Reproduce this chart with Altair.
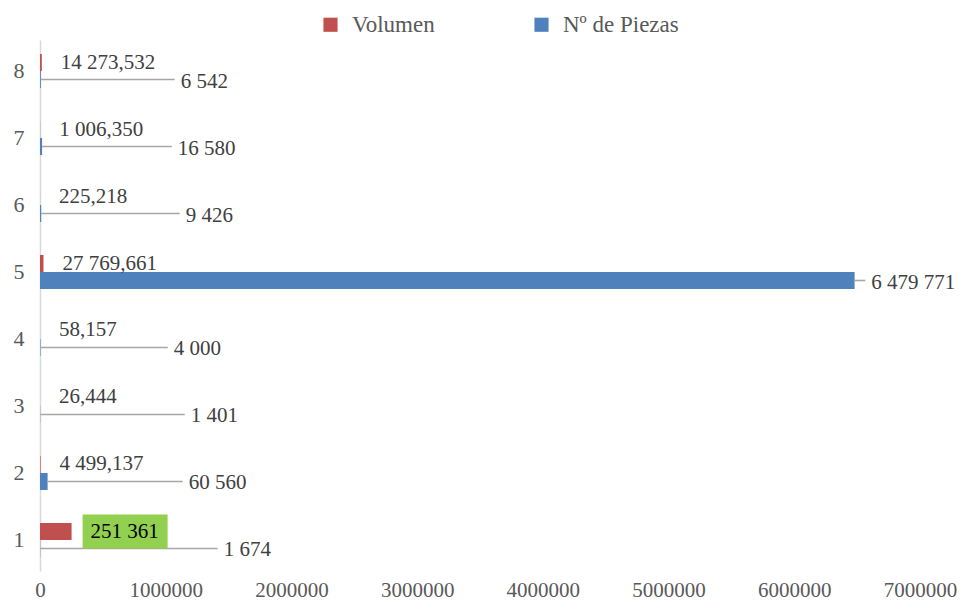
import altair as alt
import pandas as pd

categories = ["1", "2", "3", "4", "5", "6", "7", "8"]
volumen = [251361, 4499.137, 26.444, 58.157, 27769.661, 225.218, 1006.350, 14273.532]
volumen_labels = ["251 361", "4 499,137", "26,444", "58,157", "27 769,661", "225,218", "1 006,350", "14 273,532"]
piezas = [1674, 60560, 1401, 4000, 6479771, 9426, 16580, 6542]
piezas_labels = ["1 674", "60 560", "1 401", "4 000", "6 479 771", "9 426", "16 580", "6 542"]
# where each "Nº de Piezas" leader line ends (data units)
piezas_leader_end = [1413000, 1135000, 1151000, 1016000, 6565000, 1111000, 1048000, 1071000]
x_ticks = [0, 1000000, 2000000, 3000000, 4000000, 5000000, 6000000, 7000000]
highlighted = "1"

series = ["Volumen", "Nº de Piezas"]
colors = ["#C0504D", "#4F81BD"]

vol_df = pd.DataFrame({"cat": categories, "series": "Volumen", "value": volumen,
                       "label": volumen_labels})
pz_df = pd.DataFrame({"cat": categories, "series": "Nº de Piezas", "value": piezas,
                      "label": piezas_labels, "end": piezas_leader_end})
bars_df = pd.concat([vol_df, pz_df], ignore_index=True)

FONT = "Liberation Serif"
y_order = list(reversed(categories))

y_enc = alt.Y("cat:N", sort=y_order,
              scale=alt.Scale(domain=y_order, paddingInner=0.4925, paddingOuter=0.209),
              axis=alt.Axis(title=None, ticks=False, labelPadding=16, labelFontSize=22,
                            labelFont=FONT, labelColor="#595959", domainColor="#D9D9D9",
                            domainWidth=1.5, grid=False, labelAngle=0))
yoff_enc = alt.YOffset("series:N", sort=series, scale=alt.Scale(domain=series, paddingInner=0, paddingOuter=0))
x_scale = alt.Scale(domain=[0, 7000000], nice=False)

bars = alt.Chart(bars_df).mark_bar().encode(
    x=alt.X("value:Q", scale=x_scale,
            axis=alt.Axis(title=None, values=x_ticks, format="d", domain=False, ticks=False,
                          grid=False, labelFontSize=21, labelFont=FONT, labelColor="#595959",
                          labelPadding=8, labelFlush=False)),
    y=y_enc,
    yOffset=yoff_enc,
    color=alt.Color("series:N", sort=series,
                    scale=alt.Scale(domain=series, range=colors),
                    legend=alt.Legend(title=None, orient="none", direction="horizontal",
                                      legendX=279, legendY=-27, symbolType="square",
                                      symbolSize=200, symbolStrokeWidth=0,
                                      labelFont=FONT, labelFontSize=23, labelColor="#595959",
                                      labelOffset=10, columnPadding=95, labelLimit=300)),
)

leaders = alt.Chart(pz_df).mark_rule(color="#A6A6A6", strokeWidth=1.6).encode(
    x=alt.X("value:Q", scale=x_scale),
    x2="end:Q",
    y=y_enc,
    yOffset=yoff_enc,
)

pz_text = alt.Chart(pz_df).mark_text(align="left", baseline="middle", dx=6, dy=2,
                                     font=FONT, fontSize=21, color="#404040").encode(
    x=alt.X("end:Q", scale=x_scale),
    y=y_enc,
    yOffset=yoff_enc,
    text="label:N",
)

vol_text = alt.Chart(vol_df).transform_filter(
    alt.datum.cat != highlighted
).mark_text(align="left", baseline="middle", dx=19, dy=0,
            font=FONT, fontSize=21, color="#404040").encode(
    x=alt.X("value:Q", scale=x_scale),
    y=y_enc,
    yOffset=yoff_enc,
    text="label:N",
)

hl_box = alt.Chart(vol_df).transform_filter(
    alt.datum.cat == highlighted
).mark_bar(color="#92D050", height=34, xOffset=11, x2Offset=96).encode(
    x=alt.X("value:Q", scale=x_scale),
    x2="value:Q",
    y=y_enc,
    yOffset=yoff_enc,
)

hl_text = alt.Chart(vol_df).transform_filter(
    alt.datum.cat == highlighted
).mark_text(align="center", baseline="middle", dx=53, dy=1,
            font=FONT, fontSize=21, color="#000000").encode(
    x=alt.X("value:Q", scale=x_scale),
    y=y_enc,
    yOffset=yoff_enc,
    text="label:N",
)

chart = alt.layer(bars, leaders, pz_text, vol_text, hl_box, hl_text).properties(
    width=880, height=531,
    autosize=alt.AutoSizeParams(type="none"),
    padding={"left": 32, "top": 32, "right": 37, "bottom": 33},
).configure(
    background="white", font=FONT
).configure_view(
    stroke=None
).configure_legend(
    labelFont=FONT
).configure_axis(
    labelFont=FONT
)

chart.save("out.html", embed_options={"renderer": "svg", "actions": False})
